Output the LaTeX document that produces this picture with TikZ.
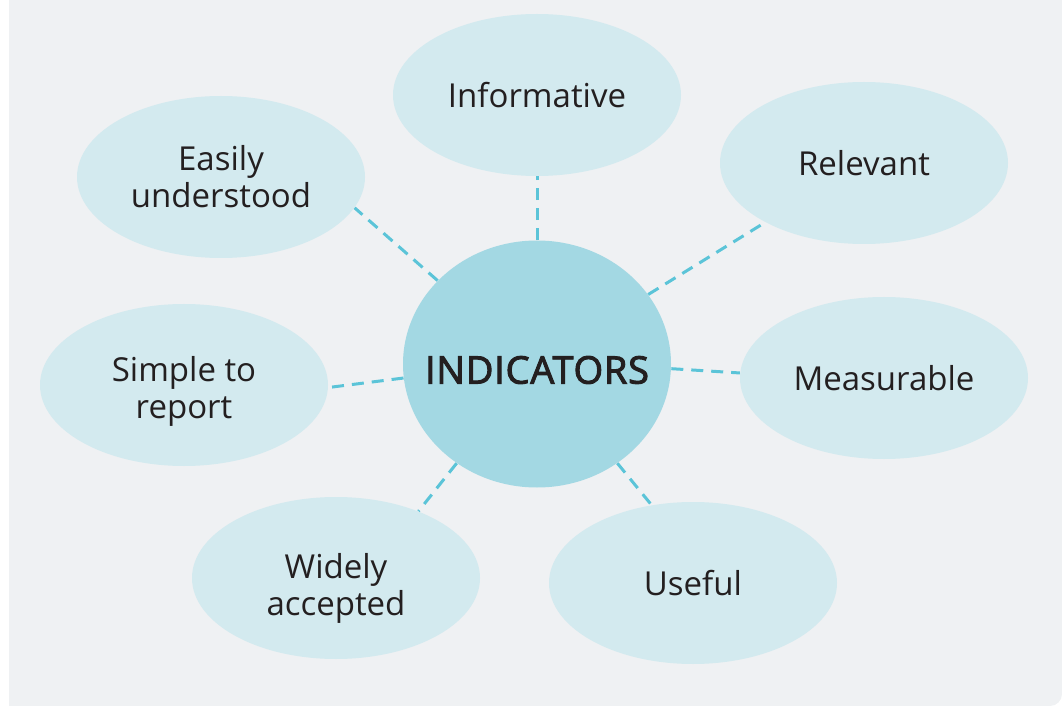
\documentclass[tikz,border=0pt]{standalone}
\usepackage{fontspec}
\setmainfont{Open Sans}
\newfontfamily\hubfont[FakeBold=2.5,LetterSpace=2]{Open Sans}
\usetikzlibrary{shapes.geometric,positioning}

\definecolor{panel}{HTML}{EFF1F3}
\definecolor{hubfill}{HTML}{A3D8E3}
\definecolor{leaffill}{HTML}{D3EAEF}
\definecolor{linkcol}{HTML}{5BC4D8}
\definecolor{inkcol}{HTML}{231F20}

\tikzset{
  hub/.style={ellipse,fill=hubfill,minimum width=134pt,minimum height=123.5pt,inner sep=0pt},
  hubtext/.style={text=inkcol,font=\fontsize{19}{22}\hubfont},
  leaf/.style={ellipse,fill=leaffill,minimum width=144pt,minimum height=81pt,inner sep=0pt},
  leaftext/.style={text=inkcol,align=center,font=\fontsize{16.5}{18.5}\selectfont},
  link/.style={draw=linkcol,line width=1.5pt,dash pattern=on 6pt off 4pt}
}

\begin{document}
\begin{tikzpicture}[x=0.5pt,y=-0.5pt]

  \useasboundingbox (0,0) rectangle (1062,706);
  \fill[panel,rounded corners=6pt] (9,-20) -- (1062,-20) -- (1062,706) -- (9,706) -- cycle;
  \fill[panel] (9,0) rectangle (1040,706);
  \fill[panel] (9,0) rectangle (1062,690);

  \node (indicators) [hub,label={[hubtext,yshift=-3pt]center:INDICATORS}] at (537,364) {};

  %% name / position / text / text shift / angle on hub / angle on leaf
  \foreach \name/\pos/\txt/\dy/\ah/\al in {
      informative/{(537,95)}/Informative/0/90/-90,
      relevant/{(864,163)}/Relevant/0/32.6/211,
      easily/{(221,177)}/{Easily\\understood}/0/140/-13,
      simple/{(184,385)}/{Simple to\\report}/-3/186/-1,
      measurable/{(884,378)}/Measurable/0/-2.5/178,
      widely/{(336,578)}/{Widely\\accepted}/-5/231/39,
      useful/{(693,583)}/Useful/0/-51/118}
           {
             \node (\name) [leaf,label={[leaftext,yshift=\dy pt]center:\txt}] at \pos {};
             \draw[link] (indicators.\ah) -- (\name.\al);
           }

\end{tikzpicture}
\end{document}
